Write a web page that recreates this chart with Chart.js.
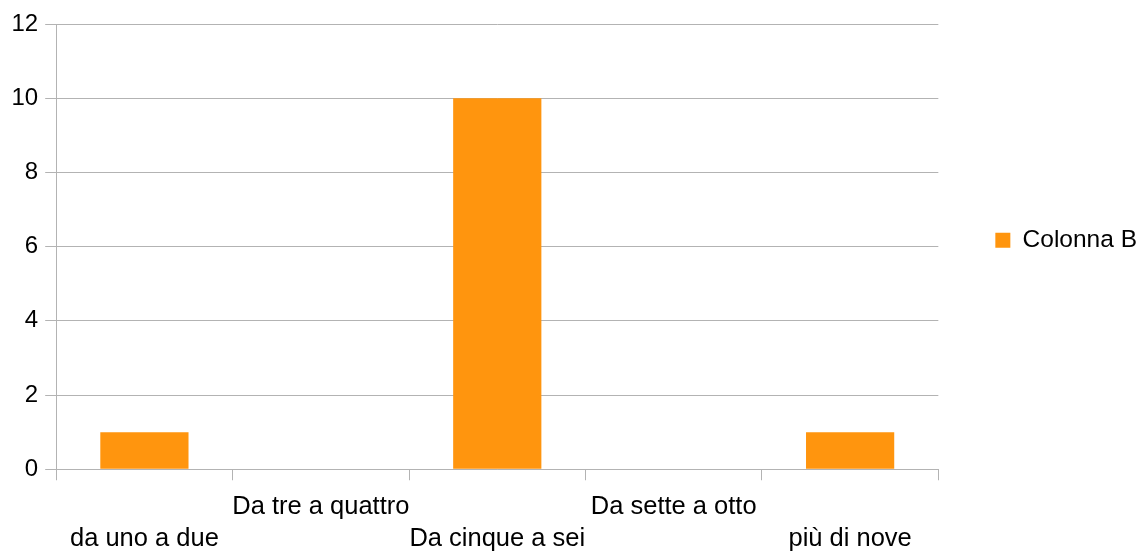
<!DOCTYPE html>
<html>
<head>
<meta charset="utf-8">
<script src="https://cdn.jsdelivr.net/npm/chart.js@4/dist/chart.umd.min.js"></script>
<style>
  body { margin: 0; background: #fff; }
  #grafico { display: block; }
</style>
</head>
<body>
<canvas id="grafico" width="1141" height="552"></canvas>
<script>
// ============ Datos ============
const categorias = ['da uno a due', 'Da tre a quattro', 'Da cinque a sei', 'Da sette a otto', 'più di nove'];
const valoriColonnaB = [1, 0, 10, 0, 1];
const nomeSerie = 'Colonna B';
const tickY = [0, 2, 4, 6, 8, 10, 12];

const grigio = '#b3b3b3';
const arancio = '#ff950e';

// etichette sfalsate: le dispari in basso, le pari in alto
const etichette = categorias.map((c, i) => i % 2 === 0 ? ['', c] : [c]);

// sube un poco la leyenda respecto al centro del area
const ajusteLeyenda = {
    id: 'ajusteLeyenda',
    afterLayout(chart) {
        if (chart.legend) chart.legend.top -= 13;
    }
};

new Chart(document.getElementById('grafico'), {
    type: 'bar',
    data: {
        labels: etichette,
        datasets: [{
            label: nomeSerie,
            data: valoriColonnaB,
            backgroundColor: arancio,
            borderWidth: 0,
            categoryPercentage: 1,
            barPercentage: 0.5
        }]
    },
    options: {
        responsive: false,
        animation: false,
        layout: { padding: { top: 24, left: 4.5, right: -6, bottom: -14 } },
        plugins: {
            tooltip: { enabled: false },
            legend: {
                position: 'right',
                fullSize: false,
                labels: {
                    boxWidth: 15,
                    boxHeight: 15,
                    padding: 57,
                    color: '#000',
                    font: { family: 'Liberation Sans', size: 24.5 }
                }
            }
        },
        scales: {
            x: {
                grid: {
                    offset: true,
                    color: ctx => (ctx.index === 0 || ctx.index === categorias.length) ? grigio : 'rgba(0,0,0,0)',
                    tickColor: grigio,
                    tickLength: 11,
                    lineWidth: 1
                },
                border: { color: grigio },
                ticks: {
                    autoSkip: false,
                    maxRotation: 0,
                    minRotation: 0,
                    padding: 11,
                    color: '#000',
                    font: { family: 'Liberation Sans', size: 25.5, lineHeight: 1.25 }
                }
            },
            y: {
                min: tickY[0],
                max: tickY[tickY.length - 1],
                afterBuildTicks: scale => { scale.ticks = tickY.map(v => ({ value: v })); },
                grid: { color: grigio, tickLength: 11 },
                border: { color: grigio },
                ticks: {
                    padding: 7,
                    color: '#000',
                    font: { family: 'Liberation Sans', size: 24 }
                }
            }
        }
    },
    plugins: [ajusteLeyenda]
});
</script>
</body>
</html>
